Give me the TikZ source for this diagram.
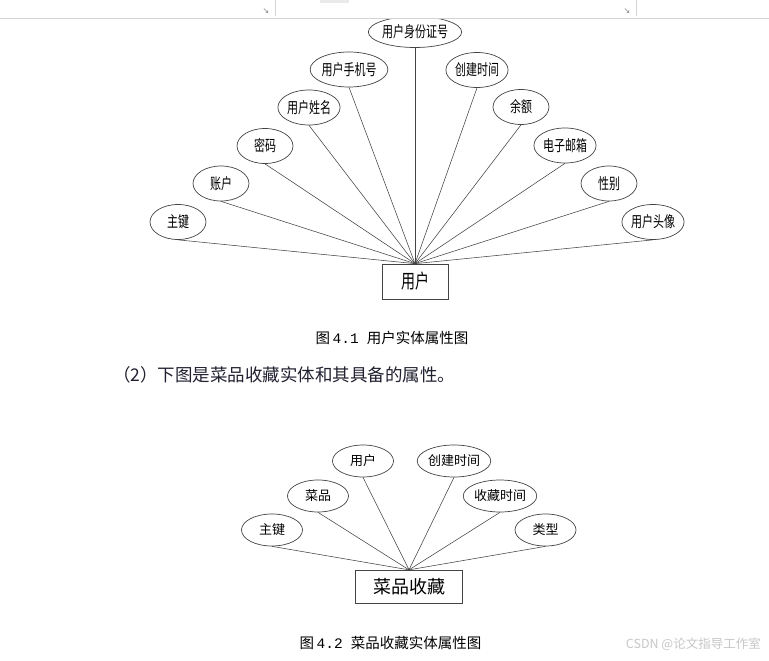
\documentclass[tikz,border=0pt]{standalone}
\usepackage{fontspec}
\usepackage{graphicx}
\usetikzlibrary{shapes.geometric}
\setmainfont{Noto Sans CJK SC}
\newfontfamily\symfont{DejaVu Sans}
\newfontfamily\digitfont{Liberation Mono}
\newcommand\tallt[1]{\scalebox{1}[1.4]{#1}}
\definecolor{edgegray}{HTML}{444444}
\definecolor{toolgray}{HTML}{D4D4D4}
\tikzset{
  attr/.style={ellipse, draw=edgegray, line width=0.7pt, inner sep=0pt, fill=white},
  attrA/.style={attr, minimum width=56, minimum height=35, font=\fontsize{11}{11}\selectfont},
  attrB/.style={attr, minimum width=61, minimum height=32, font=\fontsize{13}{13}\selectfont},
  entbox/.style={rectangle, draw=edgegray, line width=0.7pt, inner sep=0pt, fill=white},
  conn/.style={draw=edgegray, line width=0.55pt},
  captxt/.style={inner sep=0pt, font=\fontsize{14.5}{14.5}\selectfont},
}
\begin{document}
\begin{tikzpicture}[x=1pt, y=-1pt]
\useasboundingbox (0,0) rectangle (769,661);
\fill[white] (0,0) rectangle (769,661);

% ===== diagram 1 =====
\node[entbox, minimum width=66, minimum height=35, font=\fontsize{14}{14}\selectfont] (user) at (415,281.5) {\tallt{用户}};
\node[attrA, minimum width=73, minimum height=31] (a1) at (415,32) {\tallt{用户身份证号}};
\node[attrA, minimum width=62] (a2) at (349,69.5) {\tallt{用户手机号}};
\node[attrA] (a3) at (477,70) {\tallt{创建时间}};
\node[attrA] (a4) at (309,107.5) {\tallt{用户姓名}};
\node[attrA] (a5) at (521,107) {\tallt{余额}};
\node[attrA] (a6) at (265,146) {\tallt{密码}};
\node[attrA] (a7) at (565,145.5) {\tallt{电子邮箱}};
\node[attrA] (a8) at (221,183.5) {\tallt{账户}};
\node[attrA] (a9) at (609,183.5) {\tallt{性别}};
\node[attrA] (a10) at (178,222) {\tallt{主键}};
\node[attrA] (a11) at (653,222) {\tallt{用户头像}};
\foreach \n in {a1,a2,a3,a4,a5,a6,a7,a8,a9,a10,a11}
  \draw[conn] (\n.south) -- (user.north);
% toolbar remnants over the top ellipse
\fill[white] (0,0) rectangle (769,18);
\fill[toolgray!50] (320,0) rectangle (349,3);
\draw[toolgray, line width=1pt] (0,19) -- (769,19);
\draw[toolgray, line width=0.6pt] (275,0) -- (275,16);
\draw[toolgray, line width=0.6pt] (636,0) -- (636,16);
\node[inner sep=0pt, text=gray, font=\symfont\fontsize{8}{8}\selectfont] (ar1) at (266,11) {↘};
\node[inner sep=0pt, text=gray, font=\symfont\fontsize{8}{8}\selectfont] (ar2) at (627,11) {↘};

\node[captxt, anchor=west] (cap1) at (315.5,338) {图\hspace{2.5pt}{\digitfont 4.1}\hspace{8pt}用户实体属性图};
\node[inner sep=0pt, anchor=west, text={rgb,255:red,32;green,32;blue,48}, font=\fontsize{17.5}{17.5}\selectfont] (para) at (113,375) {（2）下图是菜品收藏实体和其具备的属性。};

% ===== diagram 2 =====
\node[entbox, minimum width=107, minimum height=33, font=\fontsize{18}{18}\selectfont] (fav) at (409,586.7) {菜品收藏};
\node[attrB] (b1) at (272,530) {主键};
\node[attrB] (b2) at (318,496) {菜品};
\node[attrB] (b3) at (363,461) {用户};
\node[attrB, minimum width=62] (b4) at (454,461) {创建时间};
\node[attrB, minimum width=62] (b5) at (500,496) {收藏时间};
\node[attrB] (b6) at (545.5,530) {类型};
\foreach \n in {b1,b2,b3,b4,b5,b6}
  \draw[conn] (\n.south) -- (fav.north);
\node[captxt, anchor=west] (cap2) at (299.5,643) {图\hspace{2.5pt}{\digitfont 4.2}\hspace{8pt}菜品收藏实体属性图};

% watermark
\node[inner sep=0pt, anchor=east, text=black!22, font=\fontsize{12.5}{12.5}\selectfont] (wm) at (761,644) {CSDN @论文指导工作室};
\end{tikzpicture}
\end{document}
